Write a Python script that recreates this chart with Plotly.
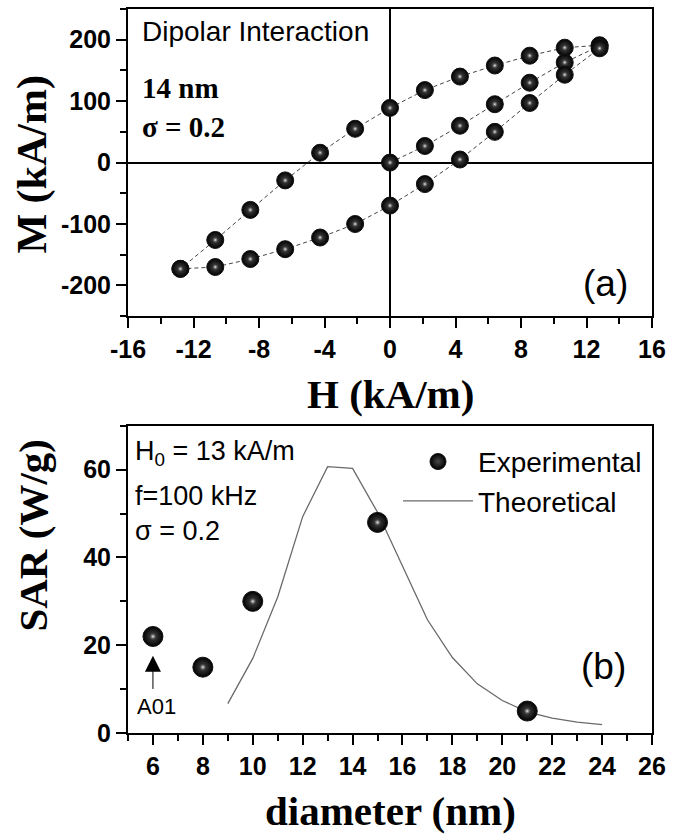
import plotly.graph_objects as go

# ---------------- data: panel (a) hysteresis ----------------
H_init = [0, 2.13, 4.27, 6.4, 8.53, 10.67, 12.8]
M_init = [0, 27, 60, 95, 130, 163, 190]

H_desc = [12.8, 10.67, 8.53, 6.4, 4.27, 2.13, 0, -2.13, -4.27, -6.4, -8.53, -10.67, -12.8]
M_desc = [191, 187, 174, 158, 140, 118, 89, 55, 16, -29, -77, -126, -173]

H_asc = [-12.8, -10.67, -8.53, -6.4, -4.27, -2.13, 0, 2.13, 4.27, 6.4, 8.53, 10.67, 12.8]
M_asc = [-173, -170, -157, -141, -122, -100, -70, -35, 5, 50, 97, 143, 186]

H_ticks = [-16, -12, -8, -4, 0, 4, 8, 12, 16]
H_ticktext = ["-16", "-12", "-8", "-4", "0", "4", "8", "12", "16"]
M_ticks = [-200, -100, 0, 100, 200]
M_ticktext = ["-200", "-100", "0", "100", "200"]

# ---------------- data: panel (b) SAR ----------------
d_exp = [6, 8, 10, 15, 21]
sar_exp = [22, 15, 30, 48, 5]

d_th = [9, 10, 11, 12, 13, 14, 15, 16, 17, 18, 19, 20, 21, 22, 23, 24]
sar_th = [6.7, 17, 31, 49.3, 60.7, 60.3, 50.3, 38, 25.8, 17.2, 11.2, 7.4, 4.8, 3.4, 2.5, 1.9]

SANS = "Liberation Sans, Arial, sans-serif"
SERIF = "Liberation Serif, Times New Roman, serif"

fig = go.Figure()

def sphere(x, y, size, xa, ya, name=None, legend=False):
    fig.add_trace(go.Scatter(
        x=x, y=y, mode="markers", xaxis=xa, yaxis=ya, name=name, showlegend=legend,
        marker=dict(size=size, color="black", symbol="circle",
                    gradient=dict(type="radial", color="#4a4a4a"),
                    line=dict(color="#111111", width=1))))
    fig.add_trace(go.Scatter(
        x=x, y=y, mode="markers", xaxis=xa, yaxis=ya, showlegend=False, hoverinfo="skip",
        marker=dict(size=size * 0.45, color="rgba(0,0,0,0)", symbol="circle",
                    gradient=dict(type="radial", color="#f2f2f2"),
                    line=dict(width=0))))

# dashed connecting lines (a)
for hx, my in [(H_init, M_init), (H_desc, M_desc), (H_asc, M_asc)]:
    fig.add_trace(go.Scatter(x=hx, y=my, mode="lines", xaxis="x", yaxis="y", showlegend=False,
                             line=dict(color="#444444", width=1, dash="4px,3px")))
for hx, my in [(H_init, M_init), (H_desc, M_desc), (H_asc, M_asc)]:
    sphere(hx, my, 17, "x", "y")

# panel (b)
fig.add_trace(go.Scatter(x=d_th, y=sar_th, mode="lines", xaxis="x2", yaxis="y2",
                         name="Theoretical", showlegend=False,
                         line=dict(color="#6a6a6a", width=1.3)))
sphere(d_exp, sar_exp, 20, "x2", "y2", name="Experimental", legend=True)
fig.add_trace(go.Scatter(x=[None], y=[None], mode="lines", xaxis="x2", yaxis="y2",
                         name="Theoretical", showlegend=True,
                         line=dict(color="#6a6a6a", width=1.3)))

tickfont = dict(family=SANS, size=25, color="black", weight="bold")
common = dict(showline=True, linewidth=2, linecolor="black", mirror=True, showgrid=False,
              ticks="outside", ticklen=10, tickwidth=2, tickcolor="black", tickfont=tickfont)

PB_TOP = (733 - 425) / 726.0
PA_BOT = (733 - 315) / 726.0

fig.update_layout(
    width=675, height=834,
    margin=dict(l=128, r=23, t=7, b=101),
    paper_bgcolor="white", plot_bgcolor="white",
    xaxis=dict(domain=[0, 1], range=[-16, 16], anchor="y", tickmode="array",
               tickvals=H_ticks, ticktext=H_ticktext,
               minor=dict(dtick=2, tick0=0, ticklen=6, tickwidth=1.5, tickcolor="black", ticks="outside"),
               zeroline=True, zerolinecolor="black", zerolinewidth=1.8, **common),
    yaxis=dict(domain=[PA_BOT, 1], range=[-250, 250], anchor="x", tickmode="array",
               tickvals=M_ticks, ticktext=M_ticktext,
               minor=dict(dtick=50, tick0=0, ticklen=6, tickwidth=1.5, tickcolor="black", ticks="outside"),
               zeroline=True, zerolinecolor="black", zerolinewidth=1.8, **common),
    xaxis2=dict(domain=[0, 1], range=[5, 26], anchor="y2", tick0=0, dtick=2,
                minor=dict(dtick=1, ticklen=6, tickwidth=1.5, tickcolor="black", ticks="outside"),
                zeroline=False, **common),
    yaxis2=dict(domain=[0, PB_TOP], range=[0, 70], anchor="x2", tick0=0, dtick=20,
                minor=dict(dtick=10, ticklen=6, tickwidth=1.5, tickcolor="black", ticks="outside"),
                zeroline=False, **common),
    legend=dict(x=(398 - 128) / 524.0, y=(733 - 436) / 726.0, xanchor="left", yanchor="top",
                font=dict(family=SANS, size=28, color="black"), bgcolor="rgba(0,0,0,0)",
                tracegroupgap=0, itemsizing="trace", itemwidth=70),
)

def px_x(p):
    return (p - 128) / 524.0

def px_y(p):
    return (733 - p) / 726.0

ann = []
# axis titles
ann.append(dict(text="<b>M (kA/m)</b>", x=px_x(33), y=px_y(163), textangle=-90,
                font=dict(family=SERIF, size=42, color="black")))
ann.append(dict(text="<b>H (kA/m)</b>", x=px_x(390), y=px_y(393),
                font=dict(family=SERIF, size=41, color="black")))
ann.append(dict(text="<b>SAR (W/g)</b>", x=px_x(33), y=px_y(535), textangle=-90,
                font=dict(family=SERIF, size=41, color="black")))
ann.append(dict(text="<b>diameter (nm)</b>", x=px_x(390), y=px_y(811),
                font=dict(family=SERIF, size=41, color="black")))
# panel (a) texts
ann.append(dict(text="Dipolar Interaction", x=px_x(140), y=px_y(30), xanchor="left",
                font=dict(family=SANS, size=28, color="black")))
ann.append(dict(text="<b>14 nm</b>", x=px_x(140), y=px_y(86), xanchor="left",
                font=dict(family=SERIF, size=29, color="black")))
ann.append(dict(text="<b>σ = 0.2</b>", x=px_x(140), y=px_y(125), xanchor="left",
                font=dict(family=SERIF, size=29, color="black")))
ann.append(dict(text="(a)", x=px_x(630), y=px_y(282), xanchor="right",
                font=dict(family=SANS, size=37, color="black")))
# panel (b) texts
ann.append(dict(text="H<sub>0</sub> = 13 kA/m", x=px_x(133), y=px_y(452), xanchor="left",
                font=dict(family=SANS, size=27, color="black")))
ann.append(dict(text="f=100 kHz", x=px_x(133), y=px_y(495), xanchor="left",
                font=dict(family=SANS, size=27, color="black")))
ann.append(dict(text="σ = 0.2", x=px_x(133), y=px_y(530), xanchor="left",
                font=dict(family=SANS, size=27, color="black")))
ann.append(dict(text="(b)", x=px_x(628), y=px_y(666), xanchor="right",
                font=dict(family=SANS, size=37, color="black")))
for a in ann:
    a.update(xref="paper", yref="paper", showarrow=False, yanchor=a.get("yanchor", "middle"))
    a.setdefault("xanchor", "center")

# A01 arrow & label (data coords)
ann.append(dict(text="", x=6, y=17.6, ax=6, ay=9.7, xref="x2", yref="y2",
                axref="x2", ayref="y2", showarrow=True, arrowhead=2, arrowsize=3.2,
                arrowwidth=1, arrowcolor="black"))
ann.append(dict(text="A01", x=6.15, y=6.0, xref="x2", yref="y2", showarrow=False,
                font=dict(family=SANS, size=22, color="black")))

fig.update_layout(annotations=ann)
fig.write_html("out.html")
